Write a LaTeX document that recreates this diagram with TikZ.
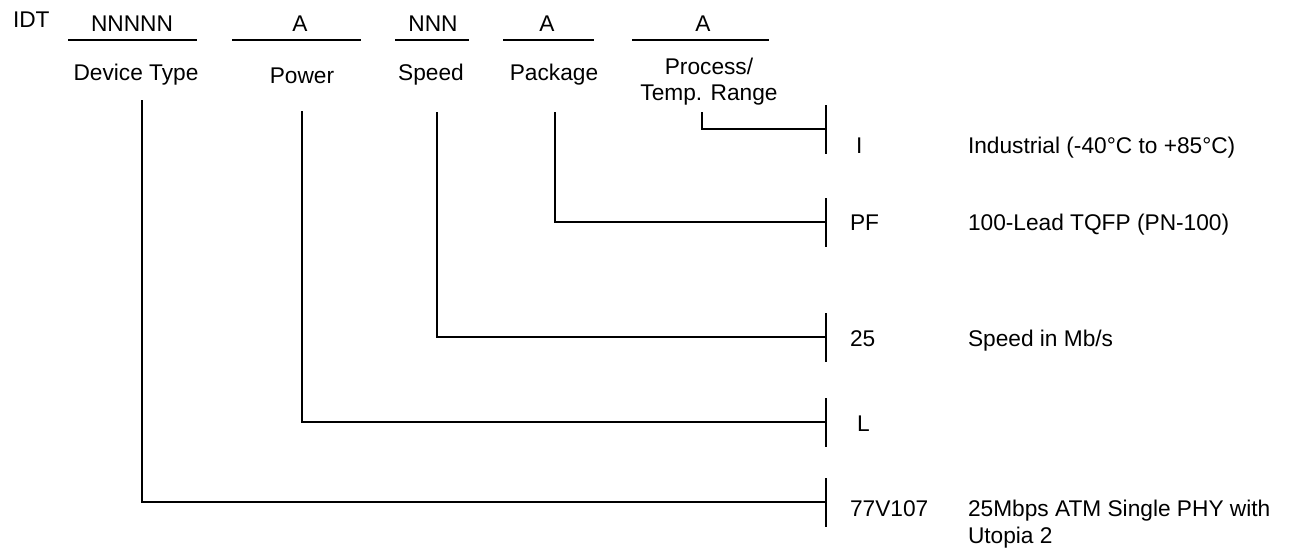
\documentclass[tikz,border=0pt]{standalone}
\usepackage{fontspec}
\setmainfont{Liberation Sans}
\begin{document}
\begin{tikzpicture}[x=1pt,y=-1pt,
  every node/.style={inner sep=0pt,outer sep=0pt,font=\fontsize{22.7}{26}\selectfont},
  lbl/.style={anchor=base},
  lft/.style={anchor=base west},
  ln/.style={line width=1.7pt,line cap=butt},
  tick/.style={line width=1.7pt}]
\useasboundingbox (0,0) rectangle (1290,550);
% header
\node[lft] (idt) at (13,27) {IDT};
\node[lbl] (f1) at (132,31) {NNNNN};
\node[lbl] (f2) at (300,31) {A};
\node[lbl] (f3) at (433,31) {NNN};
\node[lbl] (f4) at (547,31) {A};
\node[lbl] (f5) at (703,31) {A};
\draw[ln] (68,40) -- (197,40);
\draw[ln] (232,40) -- (361,40);
\draw[ln] (395,40) -- (469,40);
\draw[ln] (503,40) -- (594,40);
\draw[ln] (632,40) -- (769,40);
\node[lbl] (l1) at (136,80) {Device Type};
\node[lbl] (l2) at (302,83) {Power};
\node[lbl] (l3) at (431,80) {Speed};
\node[lbl] (l4) at (554,80) {Package};
\node[lbl] (l5a) at (709,74) {Process/};
\node[lbl] (l5b) at (709,100) {Temp. Range};
% connector start points
\coordinate (s1) at (142,100);
\coordinate (s2) at (302,111);
\coordinate (s3) at (437,112);
\coordinate (s4) at (555,112);
\coordinate (s5) at (702,112);
% bar centres
\coordinate (b5) at (826,129);
\coordinate (b4) at (826,222);
\coordinate (b3) at (826,337);
\coordinate (b2) at (826,422);
\coordinate (b1) at (826,502);
\foreach \b in {b1,b2,b3,b4,b5}
  \draw[tick] ([yshift=24]\b) -- ([yshift=-25]\b);
\draw[ln] (s1) |- (b1);
\draw[ln] (s2) |- (b2);
\draw[ln] (s3) |- (b3);
\draw[ln] (s4) |- (b4);
\draw[ln] (s5) |- (b5);
% codes
\node[lft] (c5) at (856,153) {I};
\node[lft] (c4) at (850,230) {PF};
\node[lft] (c3) at (850,346) {25};
\node[lft] (c2) at (857,431) {L};
\node[lft] (c1) at (850,516) {77V107};
% descriptions
\node[lft] (d5) at (968,153) {Industrial (-40°C to +85°C)};
\node[lft] (d4) at (968,230) {100-Lead TQFP (PN-100)};
\node[lft] (d3) at (968,346) {Speed in Mb/s};
\node[lft] (d1a) at (968,516) {25Mbps ATM Single PHY with};
\node[lft] (d1b) at (968,543) {Utopia 2};
\end{tikzpicture}
\end{document}
